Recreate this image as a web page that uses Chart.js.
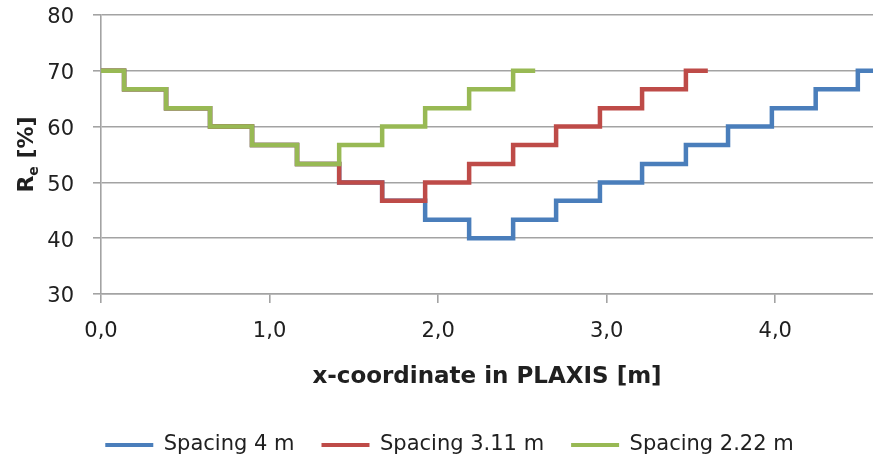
<!DOCTYPE html>
<html>
<head>
<meta charset="utf-8">
<script src="https://cdn.jsdelivr.net/npm/chart.js@4"></script>
<style>
  html, body { margin: 0; padding: 0; background: #ffffff; }
  #wrap { width: 873px; height: 461px; }
</style>
</head>
<body>
<div id="wrap"><canvas id="chart" width="873" height="461"></canvas></div>
<script>
// Step profiles of R_e along the x-coordinate: each x value starts a new level.
const seriesNames = ['Spacing 4 m', 'Spacing 3.11 m', 'Spacing 2.22 m'];

const xSpacing4 = [0, 0.137, 0.386, 0.647, 0.896, 1.163, 1.413, 1.668, 1.923, 2.184,
                   2.445, 2.70, 2.96, 3.21, 3.47, 3.72, 3.98, 4.24, 4.49, 4.62];
const reSpacing4 = [70, 66.7, 63.3, 60, 56.7, 53.3, 50, 46.7, 43.3, 40,
                    43.3, 46.7, 50, 53.3, 56.7, 60, 63.3, 66.7, 70, 70];

const xSpacing311 = [0, 0.137, 0.386, 0.647, 0.896, 1.163, 1.413, 1.668, 1.923, 2.184,
                     2.445, 2.70, 2.96, 3.21, 3.47, 3.60];
const reSpacing311 = [70, 66.7, 63.3, 60, 56.7, 53.3, 50, 46.7, 50, 53.3,
                      56.7, 60, 63.3, 66.7, 70, 70];

const xSpacing222 = [0, 0.137, 0.386, 0.647, 0.896, 1.163, 1.413, 1.668, 1.923, 2.184,
                     2.445, 2.576];
const reSpacing222 = [70, 66.7, 63.3, 60, 56.7, 53.3, 56.7, 60, 63.3, 66.7,
                      70, 70];

const yTicks = [30, 40, 50, 60, 70, 80];
const xTicks = [0, 1, 2, 3, 4];

// Each level holds from its own x up to the next x: rebuild the profile as
// corner points so the line runs horizontally first, then vertically.
const toSteps = (xs, ys) => {
  const pts = [];
  for (let i = 0; i < xs.length; i++) {
    if (i > 0) pts.push({ x: xs[i], y: ys[i - 1] });
    pts.push({ x: xs[i], y: ys[i] });
  }
  return pts;
};

const FONT = 'DejaVu Sans';
const TEXT = '#202020';
const GRID = '#a3a3a3';

// y-axis title with subscript, drawn rotated on the left
const yTitlePlugin = {
  id: 'yTitle',
  afterDraw(chart) {
    const ctx = chart.ctx;
    const area = chart.chartArea;
    const cy = (area.top + area.bottom) / 2;
    const big = 'bold 22px "' + FONT + '"';
    const small = 'bold 14px "' + FONT + '"';
    ctx.save();
    ctx.fillStyle = TEXT;
    ctx.textBaseline = 'alphabetic';
    ctx.textAlign = 'left';
    ctx.font = big;
    const wR = ctx.measureText('R').width;
    const wRest = ctx.measureText(' [%]').width;
    ctx.font = small;
    const wE = ctx.measureText('e').width;
    const total = wR + wE + wRest;
    ctx.translate(0, cy);
    ctx.rotate(-Math.PI / 2);
    let x = -total / 2;
    const base = 33;
    ctx.font = big;
    ctx.fillText('R', x, base);
    x += wR;
    ctx.font = small;
    ctx.fillText('e', x, base + 5);
    x += wE;
    ctx.font = big;
    ctx.fillText(' [%]', x, base);
    ctx.restore();
  }
};

const common = {
  fill: false,
  borderWidth: 4.5,
  pointRadius: 0,
  pointHoverRadius: 0,
  tension: 0,
  borderJoinStyle: 'miter'
};

new Chart(document.getElementById('chart'), {
  type: 'line',
  data: {
    datasets: [
      Object.assign({}, common, {
        label: seriesNames[0],
        data: toSteps(xSpacing4, reSpacing4),
        borderColor: '#4a7ebb',
        backgroundColor: '#4a7ebb',
        order: 2
      }),
      Object.assign({}, common, {
        label: seriesNames[1],
        data: toSteps(xSpacing311, reSpacing311),
        borderColor: '#be4b48',
        backgroundColor: '#be4b48',
        order: 1
      }),
      Object.assign({}, common, {
        label: seriesNames[2],
        data: toSteps(xSpacing222, reSpacing222),
        borderColor: '#98b954',
        backgroundColor: '#98b954',
        order: 0
      })
    ]
  },
  options: {
    responsive: false,
    devicePixelRatio: 1,
    animation: false,
    layout: { padding: { left: 26, right: 0, top: 15, bottom: 0 } },
    plugins: {
      tooltip: { enabled: false },
      legend: {
        position: 'bottom',
        maxHeight: 53.5,
        labels: {
          boxWidth: 48,
          boxHeight: 4,
          padding: 27,
          color: TEXT,
          font: { family: FONT, size: 21 },
          sort: (a, b) => a.datasetIndex - b.datasetIndex,
          generateLabels(chart) {
            return chart.data.datasets.map((ds, i) => ({
              text: ds.label,
              fillStyle: ds.borderColor,
              strokeStyle: ds.borderColor,
              lineWidth: 0,
              hidden: false,
              datasetIndex: i,
              fontColor: TEXT
            }));
          }
        }
      }
    },
    scales: {
      x: {
        type: 'linear',
        min: 0,
        max: 4.58,
        afterFit(scale) { scale.height = 113.5; },
        afterBuildTicks(scale) { scale.ticks = xTicks.map(v => ({ value: v })); },
        ticks: {
          color: TEXT,
          font: { family: FONT, size: 21 },
          padding: 16,
          callback: (v) => Number(v).toFixed(1).replace('.', ',')
        },
        grid: {
          drawOnChartArea: false,
          drawTicks: true,
          tickLength: 9,
          color: GRID,
          lineWidth: 1.6
        },
        border: { display: true, color: GRID, width: 1.6 },
        title: {
          display: true,
          text: 'x-coordinate in PLAXIS [m]',
          color: TEXT,
          font: { family: FONT, size: 23, weight: 'bold' },
          padding: { top: 0, bottom: 17 }
        }
      },
      y: {
        type: 'linear',
        min: 30,
        max: 80,
        afterFit(scale) {
          scale.width = 75;
          // keep the plot top fixed by the layout padding alone
          scale.paddingTop = 0;
          scale.paddingBottom = 0;
        },
        afterBuildTicks(scale) { scale.ticks = yTicks.map(v => ({ value: v })); },
        ticks: {
          color: TEXT,
          font: { family: FONT, size: 21 },
          padding: 19,
          labelOffset: 3
        },
        grid: {
          drawOnChartArea: true,
          drawTicks: true,
          tickLength: 8,
          color: GRID,
          lineWidth: 1.6
        },
        border: { display: true, color: GRID, width: 1.6 }
      }
    }
  },
  plugins: [yTitlePlugin]
});
</script>
</body>
</html>
